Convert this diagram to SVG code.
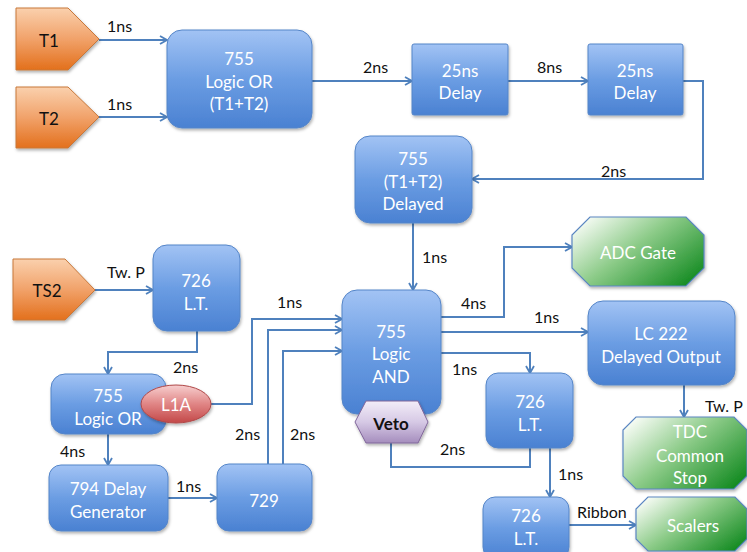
<svg xmlns="http://www.w3.org/2000/svg" width="747" height="552" viewBox="0 0 747 552">
  <defs>
    <linearGradient id="gBlue" x1="0" y1="0" x2="0" y2="1">
      <stop offset="0" stop-color="#a2c3f4"/>
      <stop offset="0.5" stop-color="#6b9de3"/>
      <stop offset="1" stop-color="#4a81d2"/>
    </linearGradient>
    <linearGradient id="gOrange" x1="0" y1="0" x2="0" y2="1">
      <stop offset="0" stop-color="#fad0ad"/>
      <stop offset="0.5" stop-color="#f1a26a"/>
      <stop offset="1" stop-color="#e3701c"/>
    </linearGradient>
    <linearGradient id="gGreen" x1="0" y1="0.15" x2="1" y2="0.85">
      <stop offset="0" stop-color="#f8fcf6"/>
      <stop offset="0.45" stop-color="#8ccb88"/>
      <stop offset="1" stop-color="#128a20"/>
    </linearGradient>
    <linearGradient id="gPurple" x1="0" y1="0" x2="0" y2="1">
      <stop offset="0" stop-color="#f3edf8"/>
      <stop offset="0.5" stop-color="#d6c9e5"/>
      <stop offset="1" stop-color="#a58dbd"/>
    </linearGradient>
    <linearGradient id="gRed" x1="0" y1="0" x2="0" y2="1">
      <stop offset="0" stop-color="#f7cfcf"/>
      <stop offset="0.5" stop-color="#e08585"/>
      <stop offset="1" stop-color="#c34848"/>
    </linearGradient>
    <filter id="shadow" x="-10%" y="-10%" width="130%" height="130%">
      <feDropShadow dx="1" dy="2" stdDeviation="1.5" flood-color="#000" flood-opacity="0.3"/>
    </filter>
    <marker id="arr" markerWidth="10" markerHeight="10" refX="9" refY="5" orient="auto" markerUnits="userSpaceOnUse">
      <path d="M2,1 L9,5 L2,9" fill="none" stroke="#4f81bd" stroke-width="1.8"/>
    </marker>
  </defs>
  <style>
    .box { fill: url(#gBlue); stroke: #5585c8; stroke-width: 1; filter: url(#shadow); }
    .src { fill: url(#gOrange); stroke: #c8783a; stroke-width: 1; filter: url(#shadow); }
    .out { fill: url(#gGreen); stroke: #5a86c2; stroke-width: 1.2; filter: url(#shadow); }
    .veto { fill: url(#gPurple); stroke: #80669a; stroke-width: 1; filter: url(#shadow); }
    .l1a { fill: url(#gRed); stroke: #b04848; stroke-width: 1; filter: url(#shadow); }
    .wt { font-family: Lato, "Liberation Sans", sans-serif; font-size: 17px; fill: #ffffff; text-anchor: middle; }
    .bt { font-family: Lato, "Liberation Sans", sans-serif; font-size: 17px; fill: #111111; text-anchor: middle; }
    .lbl { font-family: Lato, "Liberation Sans", sans-serif; font-size: 16px; fill: #111111; }
    .conn path { fill: none; stroke: #4f81bd; stroke-width: 2; }
    .conn path.a { marker-end: url(#arr); }
  </style>

  <!-- connectors -->
  <g id="connectors" class="conn">
    <path class="a" d="M99,40 H167"/>
    <path class="a" d="M99,117 H167"/>
    <path class="a" d="M312,81 H412"/>
    <path class="a" d="M508,81 H588"/>
    <path class="a" d="M683,81 H703 V179 H472"/>
    <path class="a" d="M413,223 V290"/>
    <path class="a" d="M441,317 H504 V247 H572"/>
    <path class="a" d="M441,332 H588"/>
    <path class="a" d="M441,353 H530 V373"/>
    <path d="M530,448 V467 H391 V443"/>
    <path class="a" d="M550,448 V497"/>
    <path class="a" d="M569,525 H636"/>
    <path class="a" d="M684,385 V417"/>
    <path class="a" d="M95,290 H153"/>
    <path class="a" d="M197,331 V352 H108 V374"/>
    <path class="a" d="M108,434 V465"/>
    <path class="a" d="M168,498 H217"/>
    <path class="a" d="M211,404 H252 V319 H342"/>
    <path class="a" d="M268,464 V330 H342"/>
    <path class="a" d="M283,464 V351 H342"/>
  </g>

  <!-- connector labels -->
  <g id="labels" class="lbl">
    <text x="107" y="32">1ns</text>
    <text x="107" y="110">1ns</text>
    <text x="363" y="73">2ns</text>
    <text x="537" y="73">8ns</text>
    <text x="601" y="177">2ns</text>
    <text x="422" y="263">1ns</text>
    <text x="461" y="309">4ns</text>
    <text x="534" y="323">1ns</text>
    <text x="452" y="375">1ns</text>
    <text x="440" y="455">2ns</text>
    <text x="558" y="480">1ns</text>
    <text x="577" y="518">Ribbon</text>
    <text x="705" y="412">Tw. P</text>
    <text x="107" y="278">Tw. P</text>
    <text x="277" y="308">1ns</text>
    <text x="173" y="373">2ns</text>
    <text x="235" y="440">2ns</text>
    <text x="290" y="440">2ns</text>
    <text x="60" y="457">4ns</text>
    <text x="176" y="492">1ns</text>
  </g>

  <!-- trigger sources -->
  <g id="t1">
    <polygon class="src" points="16,8 68,8 99,39 68,70 16,70"/>
    <text class="bt" x="49" y="47">T1</text>
  </g>
  <g id="t2">
    <polygon class="src" points="16,87 68,87 99,117 68,148 16,148"/>
    <text class="bt" x="49" y="125">T2</text>
  </g>
  <g id="ts2">
    <polygon class="src" points="13,259 65,259 95,290 65,320 13,320"/>
    <text class="bt" x="47" y="297">TS2</text>
  </g>

  <!-- logic modules -->
  <g id="or1">
    <rect class="box" x="167" y="30" width="145" height="98" rx="15"/>
    <text class="wt" x="239" y="65">755</text>
    <text class="wt" x="239" y="88">Logic OR</text>
    <text class="wt" x="239" y="110">(T1+T2)</text>
  </g>
  <g id="delay1">
    <rect class="box" x="412" y="44" width="96" height="71" rx="2"/>
    <text class="wt" x="460" y="77">25ns</text>
    <text class="wt" x="460" y="99">Delay</text>
  </g>
  <g id="delay2">
    <rect class="box" x="588" y="44" width="95" height="71" rx="2"/>
    <text class="wt" x="635" y="77">25ns</text>
    <text class="wt" x="635" y="99">Delay</text>
  </g>
  <g id="delayed">
    <rect class="box" x="355" y="136" width="117" height="87" rx="15"/>
    <text class="wt" x="413" y="165">755</text>
    <text class="wt" x="413" y="188">(T1+T2)</text>
    <text class="wt" x="413" y="210">Delayed</text>
  </g>
  <g id="and">
    <rect class="box" x="342" y="290" width="99" height="124" rx="15"/>
    <text class="wt" x="391" y="338">755</text>
    <text class="wt" x="391" y="360">Logic</text>
    <text class="wt" x="391" y="383">AND</text>
  </g>
  <g id="veto">
    <polygon class="veto" points="355,422 366,401 418,401 428,422 418,443 366,443"/>
    <text class="bt" x="391" y="430" font-weight="bold">Veto</text>
  </g>
  <g id="adc">
    <polygon class="out" points="590,217 686,217 704,235 704,268 686,286 590,286 572,268 572,235"/>
    <text class="wt" x="638" y="259">ADC Gate</text>
  </g>
  <g id="lc222">
    <rect class="box" x="588" y="301" width="147" height="84" rx="15"/>
    <text class="wt" x="661" y="340">LC 222</text>
    <text class="wt" x="661" y="363">Delayed Output</text>
  </g>
  <g id="lt726b">
    <rect class="box" x="486" y="373" width="87" height="75" rx="12"/>
    <text class="wt" x="530" y="408">726</text>
    <text class="wt" x="530" y="431">L.T.</text>
  </g>
  <g id="lt726c">
    <rect class="box" x="483" y="497" width="86" height="62" rx="12"/>
    <text class="wt" x="526" y="522">726</text>
    <text class="wt" x="526" y="545">L.T.</text>
  </g>
  <g id="tdc">
    <polygon class="out" points="636,417 734,417 747,430 747,476 734,489 636,489 623,476 623,430"/>
    <text class="wt" x="690" y="438">TDC</text>
    <text class="wt" x="690" y="462">Common</text>
    <text class="wt" x="690" y="484">Stop</text>
  </g>
  <g id="scalers">
    <polygon class="out" points="648,497 735,497 747,509 747,539 735,551 648,551 636,539 636,509"/>
    <text class="wt" x="693" y="532">Scalers</text>
  </g>
  <g id="lt726a">
    <rect class="box" x="153" y="245" width="87" height="86" rx="14"/>
    <text class="wt" x="196" y="287">726</text>
    <text class="wt" x="196" y="310">L.T.</text>
  </g>
  <g id="or2">
    <rect class="box" x="51" y="374" width="115" height="60" rx="14"/>
    <text class="wt" x="108" y="402">755</text>
    <text class="wt" x="108" y="425">Logic OR</text>
  </g>
  <g id="l1a">
    <ellipse class="l1a" cx="176" cy="404" rx="35" ry="19"/>
    <text class="wt" x="176" y="411">L1A</text>
  </g>
  <g id="dg794">
    <rect class="box" x="49" y="465" width="119" height="66" rx="12"/>
    <text class="wt" x="108" y="495">794 Delay</text>
    <text class="wt" x="108" y="518">Generator</text>
  </g>
  <g id="m729">
    <rect class="box" x="217" y="464" width="95" height="67" rx="12"/>
    <text class="wt" x="264" y="507">729</text>
  </g>
</svg>
